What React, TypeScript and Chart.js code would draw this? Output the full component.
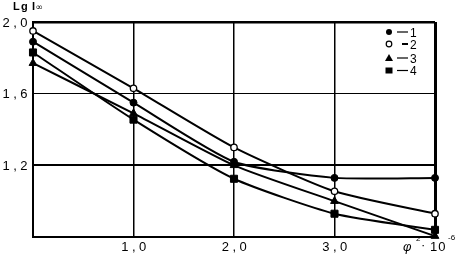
import React, { useEffect, useRef } from "react";
import { Chart, registerables } from "chart.js";
Chart.register(...registerables);

const xValues = [0, 1, 2, 3, 4];
const series1 = [1.89, 1.55, 1.22, 1.13, 1.13];
const series2 = [1.95, 1.63, 1.3, 1.055, 0.93];
const series3 = [1.77, 1.49, 1.2, 1.0, 0.805];
const series4 = [1.83, 1.455, 1.125, 0.93, 0.84];
const seriesNames = ["1", "2", "3", "4"];
const yTickValues = [2.0, 1.6, 1.2];
const yTickLabels = ["2,0", "1,6", "1,2"];
const xTickValues = [1, 2, 3];
const xTickLabels = ["1,0", "2,0", "3,0"];

const FONT = "'Liberation Sans', Arial, sans-serif";

function near(a: number, b: number) {
  return Math.abs(a - b) < 1e-6;
}

function drawMarker(ctx: CanvasRenderingContext2D, style: string, x: number, y: number) {
  ctx.save();
  ctx.fillStyle = "#000";
  ctx.strokeStyle = "#000";
  ctx.lineWidth = 1.2;
  ctx.beginPath();
  if (style === "circle") {
    ctx.arc(x, y, 3, 0, Math.PI * 2);
    ctx.fill();
  } else if (style === "open") {
    ctx.arc(x, y, 2.8, 0, Math.PI * 2);
    ctx.fillStyle = "#fff";
    ctx.fill();
    ctx.stroke();
  } else if (style === "triangle") {
    ctx.moveTo(x, y - 4);
    ctx.lineTo(x + 4, y + 3);
    ctx.lineTo(x - 4, y + 3);
    ctx.closePath();
    ctx.fill();
  } else {
    ctx.rect(x - 3.5, y - 3, 7, 6);
    ctx.fill();
  }
  ctx.restore();
}

const labelsPlugin = {
  id: "customLabels",
  afterDraw(chart: any) {
    const ctx: CanvasRenderingContext2D = chart.ctx;
    const xs = chart.scales.x;
    const ys = chart.scales.y;
    const area = chart.chartArea;
    ctx.save();
    ctx.fillStyle = "#000";
    // y tick labels
    ctx.font = `13px ${FONT}`;
    (ctx as any).letterSpacing = "3.5px";
    ctx.textAlign = "right";
    ctx.textBaseline = "alphabetic";
    yTickValues.forEach((v, i) => {
      ctx.fillText(yTickLabels[i], area.left - 2, ys.getPixelForValue(v) + 4.5);
    });
    // x tick labels
    ctx.textAlign = "center";
    xTickValues.forEach((v, i) => {
      ctx.fillText(xTickLabels[i], xs.getPixelForValue(v) + 2, 251);
    });
    (ctx as any).letterSpacing = "0px";
    // x axis title
    ctx.textAlign = "left";
    ctx.font = `italic 13px ${FONT}`;
    ctx.fillText("φ", 403, 251);
    ctx.font = `8px ${FONT}`;
    ctx.fillText("2", 416, 241);
    ctx.font = `13px ${FONT}`;
    ctx.fillText("·", 421, 249);
    (ctx as any).letterSpacing = "1px";
    ctx.fillText("10", 430, 251);
    (ctx as any).letterSpacing = "0px";
    ctx.font = `8px ${FONT}`;
    ctx.fillText("-6", 448, 240);
    // y axis title
    ctx.font = `bold 11px ${FONT}`;
    ctx.fillText("L", 13, 9.5);
    ctx.fillText("g", 21, 9.5);
    ctx.fillText("I", 32, 9.5);
    ctx.font = `9px 'DejaVu Sans', ${FONT}`;
    ctx.fillText("∞", 35.5, 10);
    // legend
    const styles = ["circle", "open", "triangle", "rect"];
    const rows = [32, 44, 58, 70.5];
    ctx.font = `12px ${FONT}`;
    seriesNames.forEach((name, i) => {
      const y = rows[i];
      drawMarker(ctx, styles[i], 389, y);
      ctx.beginPath();
      ctx.strokeStyle = "#000";
      ctx.lineWidth = i === 1 ? 2 : 1.2;
      ctx.moveTo(i === 1 ? 402 : 397, y);
      ctx.lineTo(408, y);
      ctx.stroke();
      ctx.fillText(name, 410, y + 4.5);
    });
    ctx.restore();
  },
};

export default function App() {
  const canvasRef = useRef<HTMLCanvasElement | null>(null);
  useEffect(() => {
    if (!canvasRef.current) return;
    const mk = (vals: number[]) => vals.map((y, i) => ({ x: xValues[i], y }));
    const common = {
      borderColor: "#000",
      borderWidth: 2,
      tension: 0.2,
      clip: false as any,
      pointBorderColor: "#000",
    };
    const chart = new Chart(canvasRef.current, {
      type: "line",
      data: {
        datasets: [
          { ...common, label: seriesNames[0], data: mk(series1), pointStyle: "circle", pointRadius: 3.5, pointBackgroundColor: "#000", pointBorderWidth: 1 },
          { ...common, label: seriesNames[1], data: mk(series2), pointStyle: "circle", pointRadius: 3.2, pointBackgroundColor: "#fff", pointBorderWidth: 1.3 },
          { ...common, label: seriesNames[2], data: mk(series3), pointStyle: "triangle", pointRadius: 4.5, pointBackgroundColor: "#000", pointBorderWidth: 1 },
          { ...common, label: seriesNames[3], data: mk(series4), pointStyle: "rect", pointRadius: 5, pointBackgroundColor: "#000", pointBorderWidth: 1 },
        ] as any,
      },
      options: {
        animation: false,
        responsive: false,
        maintainAspectRatio: false,
        layout: { padding: { left: 33, top: 22, right: 24, bottom: 17 } },
        plugins: { legend: { display: false }, tooltip: { enabled: false } },
        scales: {
          x: {
            type: "linear",
            min: 0,
            max: 4,
            ticks: { display: false, stepSize: 1 },
            grid: {
              color: "#000",
              drawTicks: false,
              lineWidth: (c: any) => (c.tick && near(c.tick.value, 4) ? 3 : near(c.tick?.value ?? 0, 0) ? 0 : 1.5),
            },
            border: { display: true, color: "#000", width: 2 },
          },
          y: {
            type: "linear",
            min: 0.8,
            max: 2.0,
            ticks: { display: false, stepSize: 0.4 },
            grid: {
              color: "#000",
              drawTicks: false,
              lineWidth: (c: any) => {
                const v = c.tick ? c.tick.value : 0;
                if (near(v, 2.0)) return 2.5;
                if (near(v, 1.2)) return 2;
                if (near(v, 0.8)) return 0;
                return 1;
              },
            },
            border: { display: true, color: "#000", width: 2 },
          },
        },
      } as any,
      plugins: [labelsPlugin],
    });
    return () => chart.destroy();
  }, []);
  return (
    <div style={{ position: "absolute", left: 0, top: 0, width: 459, height: 254, background: "#fff" }}>
      <canvas ref={canvasRef} width={459} height={254} />
    </div>
  );
}
